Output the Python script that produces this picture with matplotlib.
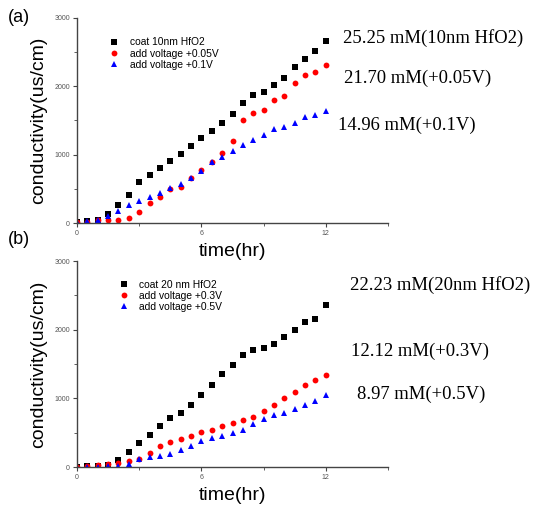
import numpy as np
import matplotlib
matplotlib.use("Agg")
import matplotlib.pyplot as plt
from matplotlib.ticker import MultipleLocator

# time points (hr)
t = np.arange(0, 12.01, 0.5)

# panel (a): 10 nm HfO2
a_coat = [10, 30, 40, 125, 260, 410, 595, 705, 800, 910, 1015, 1130, 1237,
          1353, 1470, 1590, 1750, 1874, 1918, 2019, 2116, 2280, 2396, 2512, 2662]
a_005v = [10, 20, 40, 40, 48, 68, 164, 300, 377, 493, 531, 657, 773,
          894, 1024, 1198, 1500, 1604, 1657, 1800, 1865, 2048, 2159, 2213, 2314]
a_01v = [10, 30, 40, 97, 174, 261, 324, 386, 435, 517, 575, 662, 768,
         889, 966, 1053, 1140, 1208, 1295, 1372, 1411, 1469, 1546, 1580, 1638]

# panel (b): 20 nm HfO2
b_coat = [5, 10, 15, 24, 106, 221, 346, 466, 591, 712, 793, 909, 1048,
          1197, 1360, 1490, 1638, 1700, 1729, 1797, 1894, 1995, 2106, 2155, 2357]
b_03v = [5, 10, 24, 38, 58, 87, 111, 202, 312, 370, 413, 457, 505,
         543, 596, 644, 688, 726, 822, 904, 1005, 1096, 1188, 1264, 1346]
b_05v = [5, 5, 5, 10, 15, 43, 111, 144, 163, 188, 245, 312, 375,
         423, 447, 500, 538, 620, 692, 755, 793, 851, 904, 957, 1048]

a_labels = ["coat 10nm HfO2", "add voltage +0.05V", "add voltage +0.1V"]
b_labels = ["coat 20 nm HfO2", "add voltage +0.3V", "add voltage +0.5V"]
a_notes = ["25.25 mM(10nm HfO2)", "21.70 mM(+0.05V)", "14.96 mM(+0.1V)"]
b_notes = ["22.23 mM(20nm HfO2)", "12.12 mM(+0.3V)", "8.97 mM(+0.5V)"]

plt.rcParams["font.family"] = ["Liberation Sans", "DejaVu Sans"]

W, H = 534, 505
fig = plt.figure(figsize=(W / 100, H / 100), dpi=100)


def px(x, y):
    return x / W, 1 - y / H


def make_panel(rect, series, labels, leg_xy):
    ax = fig.add_axes(rect)
    styles = [("s", "black", 4.0), ("o", "red", 4.2), ("^", "blue", 5.0)]
    handles = []
    for ys, (m, c, ms) in zip(series, styles):
        h, = ax.plot(t, ys, linestyle="none", marker=m, color=c, ms=ms,
                     markeredgewidth=0)
        handles.append(h)
    ax.set_xlim(0, 15)
    ax.set_ylim(0, 3000)
    ax.set_xticks([0, 6, 12])
    ax.set_yticks([0, 1000, 2000, 3000])
    ax.xaxis.set_minor_locator(MultipleLocator(3))
    ax.yaxis.set_minor_locator(MultipleLocator(500))
    for s in ["top", "right"]:
        ax.spines[s].set_visible(False)
    for s in ["left", "bottom"]:
        ax.spines[s].set_color("#444444")
        ax.spines[s].set_linewidth(1.0)
    ax.tick_params(which="both", direction="out", colors="#444444",
                   labelsize=5, labelcolor="#555555", pad=2)
    ax.tick_params(which="major", length=3)
    ax.tick_params(which="minor", length=2)
    ax.set_xlabel("time(hr)", fontsize=14, labelpad=4)
    ax.set_ylabel("conductivity(us/cm)", fontsize=14, labelpad=5)
    ax.legend(handles, labels, loc="upper left", bbox_to_anchor=leg_xy,
              frameon=False, fontsize=7.4, handletextpad=1.0,
              labelspacing=0.12, handlelength=1.0, borderaxespad=0)
    return ax


ax_a = make_panel([77 / W, 1 - 223 / H, 311 / W, 205 / H],
                  [a_coat, a_005v, a_01v], a_labels, (0.09, 0.925))
ax_b = make_panel([77 / W, 1 - 467 / H, 311 / W, 206 / H],
                  [b_coat, b_03v, b_05v], b_labels, (0.12, 0.93))

fig.text(*px(8, 17), "(a)", fontsize=13, va="center")
fig.text(*px(8, 240), "(b)", fontsize=13, va="center")

serif = dict(family="Liberation Serif", fontsize=13.4, va="center")
for note, (x, y) in zip(a_notes, [(343, 38), (344, 78), (338, 125)]):
    fig.text(*px(x, y), note, **serif)
for note, (x, y) in zip(b_notes, [(350, 285), (351, 351), (357, 394)]):
    fig.text(*px(x, y), note, **serif)

fig.savefig("out.png", dpi=100)
